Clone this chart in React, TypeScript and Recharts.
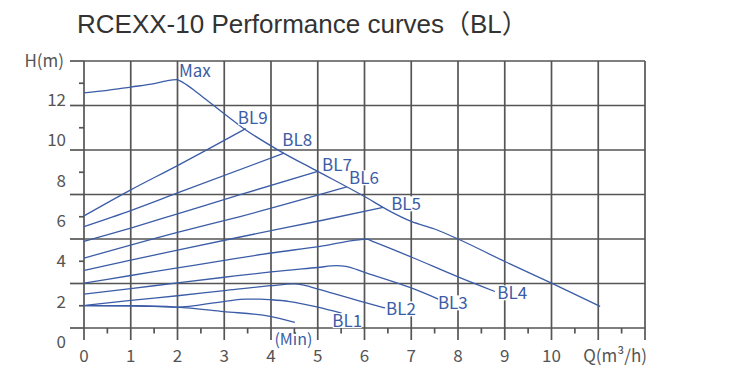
import React from 'react';
import { LineChart, Line, XAxis, YAxis, ReferenceLine, ReferenceDot } from 'recharts';

const GRID = '#555';
const BLUE = '#3b5ca6';
const TEXT = '#555';
const FONT = '"Noto Sans CJK SC", "Noto Sans", sans-serif';

// curves, Q in m3/h, H in m
const maxCurve = [
  { x: 0, y: 11.57 }, { x: 0.5, y: 11.68 }, { x: 1, y: 11.83 }, { x: 1.5, y: 11.98 },
  { x: 1.77, y: 12.11 }, { x: 1.98, y: 12.16 }, { x: 2.12, y: 12.03 }, { x: 2.41, y: 11.6 },
  { x: 2.7, y: 11.12 }, { x: 2.98, y: 10.66 }, { x: 3.4, y: 9.99 }, { x: 4.2, y: 8.94 },
  { x: 5, y: 8.04 }, { x: 6, y: 6.91 }, { x: 6.5, y: 6.3 }, { x: 7, y: 5.79 },
  { x: 7.5, y: 5.45 }, { x: 8, y: 5.0 }, { x: 9, y: 3.99 }, { x: 10, y: 3.02 }, { x: 11.04, y: 1.97 },
];
const bl9 = [{ x: 0, y: 6.04 }, { x: 1, y: 7.21 }, { x: 2, y: 8.3 }, { x: 3.46, y: 9.96 }];
const bl8 = [{ x: 0, y: 5.56 }, { x: 1, y: 6.28 }, { x: 2, y: 7.07 }, { x: 4.28, y: 8.86 }];
const bl7 = [{ x: 0, y: 4.89 }, { x: 1, y: 5.49 }, { x: 2, y: 6.13 }, { x: 3.34, y: 6.99 }, { x: 5.0, y: 8.04 }];
const bl6 = [{ x: 0, y: 4.14 }, { x: 2, y: 5.3 }, { x: 3.34, y: 6.01 }, { x: 5.62, y: 7.34 }];
const bl5 = [{ x: 0, y: 3.59 }, { x: 1, y: 4.05 }, { x: 2, y: 4.5 }, { x: 3.34, y: 5.09 }, { x: 5.05, y: 5.82 }, { x: 6.4, y: 6.42 }];
const bl4 = [
  { x: 0, y: 3.02 }, { x: 1, y: 3.36 }, { x: 2, y: 3.7 }, { x: 3, y: 4.04 }, { x: 4, y: 4.37 },
  { x: 5.05, y: 4.67 }, { x: 5.87, y: 4.96 }, { x: 6.05, y: 4.99 }, { x: 6.2, y: 4.87 },
  { x: 7, y: 4.19 }, { x: 8, y: 3.3 }, { x: 8.79, y: 2.64 },
];
const bl3 = [
  { x: 0, y: 2.52 }, { x: 1, y: 2.77 }, { x: 2, y: 3.03 }, { x: 3, y: 3.28 }, { x: 4, y: 3.52 },
  { x: 5, y: 3.72 }, { x: 5.4, y: 3.8 }, { x: 5.6, y: 3.77 }, { x: 6, y: 3.5 }, { x: 7, y: 2.8 }, { x: 7.58, y: 2.3 },
];
const bl2 = [
  { x: 0, y: 2.01 }, { x: 1, y: 2.24 }, { x: 2, y: 2.45 }, { x: 3, y: 2.68 }, { x: 4, y: 2.9 },
  { x: 4.48, y: 2.98 }, { x: 4.7, y: 2.93 }, { x: 5.05, y: 2.72 }, { x: 6, y: 2.15 }, { x: 6.44, y: 1.9 },
];
const bl1 = [
  { x: 0, y: 2.01 }, { x: 1, y: 2.0 }, { x: 1.98, y: 1.94 }, { x: 2.98, y: 2.19 }, { x: 3.48, y: 2.3 },
  { x: 3.76, y: 2.3 }, { x: 4.01, y: 2.27 }, { x: 4.4, y: 2.19 }, { x: 5.0, y: 1.94 }, { x: 5.51, y: 1.67 },
];
const minCurve = [
  { x: 0, y: 2.01 }, { x: 1, y: 2.0 }, { x: 1.98, y: 1.94 }, { x: 2.98, y: 1.74 }, { x: 3.98, y: 1.52 }, { x: 4.51, y: 1.25 },
];

const curves = [maxCurve, bl9, bl8, bl7, bl6, bl5, bl4, bl3, bl2, bl1, minCurve];

const curveLabels = [
  { name: 'Max', x: 2.37, y: 12.56 },
  { name: 'BL9', x: 3.61, y: 10.45 },
  { name: 'BL8', x: 4.56, y: 9.46 },
  { name: 'BL7', x: 5.41, y: 8.34 },
  { name: 'BL6', x: 5.99, y: 7.75 },
  { name: 'BL5', x: 6.89, y: 6.58 },
  { name: 'BL4', x: 9.16, y: 2.58 },
  { name: 'BL3', x: 7.89, y: 2.13 },
  { name: 'BL2', x: 6.78, y: 1.86 },
  { name: 'BL1', x: 5.63, y: 1.33 },
  { name: '(Min)', x: 4.48, y: 0.5 },
];

const xTicks = [0, 0.5, 1, 1.5, 2, 2.5, 3, 3.5, 4, 4.5, 5, 5.5, 6, 6.5, 7, 7.5, 8, 8.5, 9, 9.5, 10, 10.5, 11, 11.5, 12];
const xGrid = [0, 1, 2, 3, 4, 5, 6, 7, 8, 9, 10, 11, 12];
const xLabels = ['0', '1', '2', '3', '4', '5', '6', '7', '8', '9', '10'];
const yTicks = [1, 2, 3, 4, 5, 6, 7, 8, 9, 10, 11, 12, 13];
const yGrid = [1, 3, 5, 7, 9, 11, 13];
const xTitle = 'Q(m³/h)';
const yTitle = 'H(m)';

function XTick({ x, y, payload }: any) {
  const v = payload.value;
  const major = Number.isInteger(v);
  return (
    <g>
      <line x1={x} x2={x} y1={y} y2={y + (major ? 12 : 5.5)} stroke={GRID} strokeWidth={1.7} />
      {major && v < xLabels.length && (
        <text x={x} y={y + 34} textAnchor="middle" fontSize={17} fill={TEXT} fontFamily={FONT}>{xLabels[v]}</text>
      )}
      {v === 12 && (
        <text x={x + 2} y={y + 34} textAnchor="end" fontSize={17} fill={TEXT} fontFamily={FONT}>{xTitle}</text>
      )}
    </g>
  );
}

function YTick({ x, y, payload }: any) {
  const v = payload.value;
  const odd = v % 2 === 1;
  let label: string | null = null;
  let ly = y;
  if (v === 1) { label = '0'; ly = y + 14; }
  else if (v === 13) { label = yTitle; ly = y; }
  else if (!odd) { label = String(v); ly = y + (v - 1) * 22.25 + 14 - v * 20.17; }
  return (
    <g>
      <line x1={x - (odd ? 14 : 5)} x2={x} y1={y} y2={y} stroke={GRID} strokeWidth={1.7} />
      {label && (
        <text x={v === 13 ? x - 20 : x - 18} y={ly + 6} textAnchor="end" fontSize={17} fill={TEXT} fontFamily={FONT}>{label}</text>
      )}
    </g>
  );
}

function CurveLabel({ cx, cy, text }: any) {
  const small = text.startsWith('(');
  const w = text.length * (small ? 8 : 9) + 2;
  const h = small ? 18 : 15;
  return (
    <g>
      <rect x={cx - w / 2} y={cy - h / 2} width={w} height={h} fill="#fff" />
      <text x={cx} y={cy + 6} textAnchor="middle" fontSize={small ? 16 : 17} fill={BLUE} fontFamily={FONT}>{text}</text>
    </g>
  );
}

export default function App() {
  return (
    <div style={{ position: 'absolute', left: 0, top: 0, width: 732, height: 371, background: '#fff' }}>
      <svg width={732} height={50} style={{ position: 'absolute', left: 0, top: 0 }}>
        <text x={77} y={32.5} fontSize={26} fill="#333" fontFamily='"Liberation Sans", Arial, "Noto Sans CJK SC", sans-serif'>
          RCEXX-10 Performance curves（BL）
        </text>
      </svg>
      <div style={{ position: 'absolute', left: 0, top: 0 }}>
        <LineChart width={732} height={371} margin={{ top: 61, right: 87, bottom: 3, left: 24 }}>
          <XAxis
            type="number"
            dataKey="x"
            domain={[0, 12]}
            ticks={xTicks}
            interval={0}
            height={40}
            tickSize={0}
            tickMargin={0}
            tickLine={false}
            axisLine={false}
            tick={<XTick />}
          />
          <YAxis
            type="number"
            domain={[1, 13]}
            ticks={yTicks}
            interval={0}
            width={60}
            tickSize={0}
            tickMargin={0}
            tickLine={false}
            axisLine={false}
            tick={<YTick />}
          />
          {xGrid.map((v) => (
            <ReferenceLine key={'x' + v} x={v} stroke={GRID} strokeWidth={1.7} />
          ))}
          {yGrid.map((v) => (
            <ReferenceLine key={'y' + v} y={v} stroke={GRID} strokeWidth={1.7} />
          ))}
          {curves.map((c, i) => (
            <Line
              key={i}
              data={c}
              dataKey="y"
              type="monotone"
              stroke={BLUE}
              strokeWidth={1.3}
              dot={false}
              activeDot={false}
              isAnimationActive={false}
            />
          ))}
          {curveLabels.map((l) => (
            <ReferenceDot
              key={l.name}
              x={l.x}
              y={l.y}
              r={0}
              ifOverflow="visible"
              shape={(p: any) => <CurveLabel cx={p.cx} cy={p.cy} text={l.name} />}
            />
          ))}
        </LineChart>
      </div>
    </div>
  );
}
